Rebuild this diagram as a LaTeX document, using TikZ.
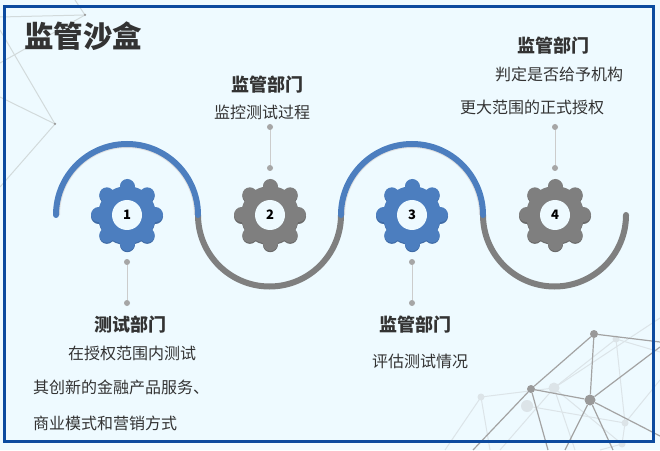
\documentclass[tikz,border=0pt]{standalone}
\usepackage{fontspec}
\setmainfont{Noto Sans CJK SC}
\usepackage{tikz}
\usetikzlibrary{calc,positioning}
\definecolor{sandbg}{HTML}{EEFAFF}
\definecolor{framecol}{HTML}{0B4A9F}
\definecolor{bluecol}{HTML}{4C7EBF}
\definecolor{bluedark}{HTML}{3F6BA6}
\definecolor{graycol}{HTML}{7F7F7F}
\definecolor{graydark}{HTML}{6A6A6A}
\definecolor{textcol}{HTML}{333333}
\definecolor{netstrong}{HTML}{A3A3A3}
\definecolor{netdot}{HTML}{999999}
\definecolor{netpale}{HTML}{DCE4E8}
\definecolor{netfar}{HTML}{D2DADB}
\begin{document}
\begin{tikzpicture}[x=1pt,y=1pt]
\tikzset{
  title/.style={font=\fontsize{29.5}{30}\selectfont\bfseries,text=textcol,inner sep=0pt},
  head/.style={font=\fontsize{18}{18}\selectfont\bfseries,text=textcol,inner sep=0pt},
  body/.style={font=\fontsize{16}{16}\selectfont,text=textcol,inner sep=0pt},
  num/.style={circle,fill=sandbg,minimum size=30pt,inner sep=0pt,font=\fontsize{13}{13}\selectfont\bfseries,text=black},
  dot/.style={circle,fill=#1,inner sep=0pt,minimum size=6pt},
  dot/.default={black!35},
  stem/.style={draw=black!20,line width=1pt},
  wave/.style={line width=6pt,line cap=round},
  wavelow/.style={line width=2pt,draw=black!12},
  netA/.style={draw=netfar,line width=1pt},
  netB/.style={draw=netpale,line width=1pt},
  netC/.style={draw=netstrong,line width=1.2pt},
  pics/gear/.style 2 args={code={
    \fill[#2] (0,-1.2) circle (29);
    \foreach \a in {0,45,...,315} \draw[#2,line width=15pt,line cap=round] (0,-1.2) -- ++(\a:28.5);
    \fill[#1] (0,0) circle (29);
    \foreach \a in {0,45,...,315} \draw[#1,line width=15pt,line cap=round] (0,0) -- (\a:28.5);
  }}
}
\useasboundingbox (0,0) rectangle (660,450);
\fill[sandbg] (0,0) rectangle (660,450);
% network top left
\coordinate (t1) at (85,435);
\coordinate (t2) at (55,326);
\draw[netA] (t1) -- (0,433);
\draw[netA] (t1) -- (75,450);
\draw[netA] (t1) -- (0,387);
\draw[netA] (t2) -- (0,353);
\draw[netA] (t2) -- (0,263);
\draw[netA] (t2) -- (0,420);
\node[dot=netdot,minimum size=2.5pt] at (t1) {};
\node[dot=netdot,minimum size=2.5pt] at (t2) {};
% network bottom right, pale part
\coordinate (f1) at (481,53);
\coordinate (f2) at (554,62);
\coordinate (f3) at (527,44);
\coordinate (f4) at (616,111);
\coordinate (f5) at (625,27);
\coordinate (f6) at (622,6);
\draw[netB] (f1) -- (f2);
\draw[netB] (f1) -- (445,0);
\draw[netB] (f1) -- (490,0);
\draw[netB] (f2) -- (660,132);
\draw[netB] (f2) -- (500,0);
\draw[netB] (f2) -- (575,0);
\draw[netB] (f3) -- (f5);
\draw[netB] (f2) -- (f6);
\draw[netB] (f4) -- (f5);
\draw[netB] (f4) -- (f2);
\draw[netB] (f4) -- (660,98);
\draw[netB] (f5) -- (660,70);
\draw[netB] (f6) -- (f5);
\draw[netB] (f6) -- (600,0);
\node[dot=netpale,minimum size=7pt] at (f1) {};
\node[dot=netpale,minimum size=11pt] at (f2) {};
\node[dot=netpale,minimum size=12pt] at (f3) {};
\node[dot=netpale,minimum size=7pt] at (f4) {};
\node[dot=netpale,minimum size=7pt] at (f5) {};
\node[dot=netpale,minimum size=7pt] at (f6) {};
% network bottom right, strong part
\node[dot=netdot,minimum size=8pt] (n1) at (594,116) {};
\node[dot=netdot,minimum size=8pt] (n2) at (531,61) {};
\node[dot=netdot,minimum size=11pt] (n3) at (590,50) {};
\draw[netC] (n1) -- (n2);
\draw[netC] (n1) -- (n3);
\draw[netC] (n2) -- (n3);
\draw[netC] (n1) -- (660,108);
\draw[netC] (n3) -- (660,103);
\draw[netC] (n3) -- (660,14);
\draw[netC] (n2) -- (473,0);
\draw[netC] (n2) -- (548,0);
\draw[netC] (n3) -- (565,0);
\draw[netC] (n3) -- (613,0);
% frame
\draw[framecol,line width=3.5pt] (4.5,8.5) rectangle (653.5,443.5);
% wave
\coordinate (w0) at (56,235);
\coordinate (w1) at (198,235);
\coordinate (w2) at (341,235);
\coordinate (w3) at (483,235);
\coordinate (w4) at (626,235);
\draw[wavelow] ($(w0)+(3,0)$) arc[start angle=180,end angle=0,radius=68];
\draw[wavelow] ($(w2)+(3,0)$) arc[start angle=180,end angle=0,radius=68];
\draw[wave,graycol] (w1) arc[start angle=180,end angle=360,radius=71.5];
\draw[wave,graycol] (w3) arc[start angle=180,end angle=360,radius=71.5];
\draw[wave,bluecol] (w0) arc[start angle=180,end angle=0,radius=71];
\draw[wave,bluecol] (w2) arc[start angle=180,end angle=0,radius=71];
% gears
\pic at (127,235) {gear={bluecol}{bluedark}};
\pic at (270,235) {gear={graycol}{graydark}};
\pic at (412,235) {gear={bluecol}{bluedark}};
\pic at (555,235) {gear={graycol}{graydark}};
\node[num] (g1) at (127,235) {1};
\node[num] (g2) at (270,235) {2};
\node[num] (g3) at (412,235) {3};
\node[num] (g4) at (555,235) {4};
% stems
\node[dot] (a1) at (127,188) {};
\node[dot] (b1) at (127,147) {};
\node[dot] (a2) at (270,323) {};
\node[dot] (b2) at (270,282) {};
\node[dot] (a3) at (412,188) {};
\node[dot] (b3) at (412,147) {};
\node[dot] (a4) at (555,323) {};
\node[dot] (b4) at (555,282) {};
\draw[stem] (a1) -- (b1);
\draw[stem] (a2) -- (b2);
\draw[stem] (a3) -- (b3);
\draw[stem] (a4) -- (b4);
% text
\node[title] (ttl) at (83,414) {监管沙盒};
\node[head] (h1) at (130,125) {测试部门};
\node[body] (l11) at (132,97) {在授权范围内测试};
\node[body] (l12) at (121,63) {其创新的金融产品服务、};
\node[body] (l13) at (105,27) {商业模式和营销方式};
\node[head] (h2) at (267,365) {监管部门};
\node[body] (l21) at (262,338) {监控测试过程};
\node[head] (h3) at (415,125) {监管部门};
\node[body] (l31) at (420,89) {评估测试情况};
\node[head] (h4) at (553,404) {监管部门};
\node[body] (l41) at (559,376) {判定是否给予机构};
\node[body] (l42) at (532,343) {更大范围的正式授权};
\end{tikzpicture}
\end{document}
